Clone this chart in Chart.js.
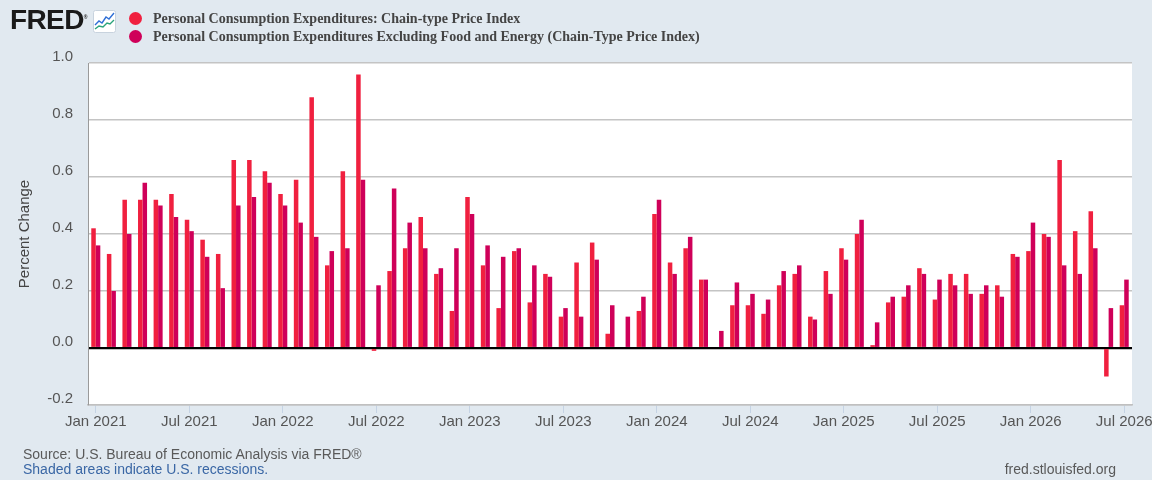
<!DOCTYPE html>
<html>
<head>
<meta charset="utf-8">
<script src="https://cdn.jsdelivr.net/npm/chart.js@4.4.1/dist/chart.umd.min.js"></script>
<style>
  html, body { margin: 0; padding: 0; background: #e1e9f0; }
  #wrap { position: relative; width: 1152px; height: 480px; overflow: hidden; background: #e1e9f0; }
  #chart { position: absolute; left: 0; top: 0; }
  .logo { position: absolute; left: 10px; top: 4px; font: bold 28px "Liberation Sans", Arial, sans-serif; color: #1a1a1a; letter-spacing: -0.6px; }
  .logo sup { font-size: 5px; letter-spacing: 0; }
  .icon { position: absolute; left: 93px; top: 10px; }
  .leg { position: absolute; left: 129px; font: bold 14px "Liberation Serif", "Times New Roman", serif; color: #444; white-space: nowrap; }
  .leg i { display: inline-block; width: 13px; height: 13px; border-radius: 50%; vertical-align: -2px; margin-right: 11px; }
  .foot { position: absolute; font: 14px "Liberation Sans", Arial, sans-serif; color: #595959; white-space: nowrap; }
</style>
</head>
<body>
<div id="wrap">
  <canvas id="chart" width="1152" height="480"></canvas>
  <div class="logo">FRED<sup>®</sup></div>
  <svg class="icon" width="23" height="23" viewBox="0 0 23 23">
    <rect x="0.5" y="0.5" width="22" height="22" rx="2" fill="#fff" stroke="#c8d3de"/>
    <polyline points="2,15 6,11 9,13 13,7 16,9 21,3" fill="none" stroke="#2f6fd6" stroke-width="1.4"/>
    <polyline points="2,19 6,16 10,17 14,13 17,14 21,10" fill="none" stroke="#2aa37a" stroke-width="1.4"/>
  </svg>
  <div class="leg" style="top:11px"><i style="background:#f0203f"></i>Personal Consumption Expenditures: Chain-type Price Index</div>
  <div class="leg" style="top:29px"><i style="background:#cf0059"></i>Personal Consumption Expenditures Excluding Food and Energy (Chain-Type Price Index)</div>
  <div class="foot" style="left:23px; top:446px">Source: U.S. Bureau of Economic Analysis via FRED®</div>
  <div class="foot" style="left:23px; top:461px; color:#3a67a5">Shaded areas indicate U.S. recessions.</div>
  <div class="foot" style="right:36px; top:461px">fred.stlouisfed.org</div>
</div>
<script>
// monthly percent change, Jan 2021 .. Jul 2026
const months = [
  "Jan 2021","Feb 2021","Mar 2021","Apr 2021","May 2021","Jun 2021","Jul 2021","Aug 2021","Sep 2021","Oct 2021","Nov 2021","Dec 2021",
  "Jan 2022","Feb 2022","Mar 2022","Apr 2022","May 2022","Jun 2022","Jul 2022","Aug 2022","Sep 2022","Oct 2022","Nov 2022","Dec 2022",
  "Jan 2023","Feb 2023","Mar 2023","Apr 2023","May 2023","Jun 2023","Jul 2023","Aug 2023","Sep 2023","Oct 2023","Nov 2023","Dec 2023",
  "Jan 2024","Feb 2024","Mar 2024","Apr 2024","May 2024","Jun 2024","Jul 2024","Aug 2024","Sep 2024","Oct 2024","Nov 2024","Dec 2024",
  "Jan 2025","Feb 2025","Mar 2025","Apr 2025","May 2025","Jun 2025","Jul 2025","Aug 2025","Sep 2025","Oct 2025","Nov 2025","Dec 2025",
  "Jan 2026","Feb 2026","Mar 2026","Apr 2026","May 2026","Jun 2026","Jul 2026"
];

const pce = [
  0.42, 0.33, 0.52, 0.52, 0.52, 0.54, 0.45, 0.38, 0.33, 0.66, 0.66, 0.62,
  0.54, 0.59, 0.88, 0.29, 0.62, 0.96, -0.01, 0.27, 0.35, 0.46, 0.26, 0.13,
  0.53, 0.29, 0.14, 0.34, 0.16, 0.26, 0.11, 0.30, 0.37, 0.05, 0.00, 0.13,
  0.47, 0.30, 0.35, 0.24, 0.00, 0.15, 0.15, 0.12, 0.22, 0.26, 0.11, 0.27,
  0.35, 0.40, 0.01, 0.16, 0.18, 0.28, 0.17, 0.26, 0.26, 0.19, 0.22, 0.33,
  0.34, 0.40, 0.66, 0.41, 0.48, -0.10, 0.15
];

const pceCore = [
  0.36, 0.20, 0.40, 0.58, 0.50, 0.46, 0.41, 0.32, 0.21, 0.50, 0.53, 0.58,
  0.50, 0.44, 0.39, 0.34, 0.35, 0.59, 0.22, 0.56, 0.44, 0.35, 0.28, 0.35,
  0.47, 0.36, 0.32, 0.35, 0.29, 0.25, 0.14, 0.11, 0.31, 0.15, 0.11, 0.18,
  0.52, 0.26, 0.39, 0.24, 0.06, 0.23, 0.19, 0.17, 0.27, 0.29, 0.10, 0.19,
  0.31, 0.45, 0.09, 0.18, 0.22, 0.26, 0.24, 0.22, 0.19, 0.22, 0.18, 0.32,
  0.44, 0.39, 0.29, 0.26, 0.35, 0.14, 0.24
];

const yTicks = [-0.2, 0.0, 0.2, 0.4, 0.6, 0.8, 1.0];

const plotBg = {
  id: "plotBg",
  beforeDraw(chart) {
    const { ctx, chartArea: a } = chart;
    ctx.save();
    ctx.fillStyle = "#fff";
    ctx.fillRect(a.left, a.top, a.right - a.left, a.bottom - a.top);
    ctx.restore();
  }
};

const tickFont = { family: "'Liberation Sans', Arial, sans-serif", size: 15 };

new Chart(document.getElementById("chart"), {
  type: "bar",
  data: {
    labels: months,
    datasets: [
      { label: "Personal Consumption Expenditures: Chain-type Price Index", data: pce, backgroundColor: "#f0203f" },
      { label: "Personal Consumption Expenditures Excluding Food and Energy (Chain-Type Price Index)", data: pceCore, backgroundColor: "#cf0059" }
    ]
  },
  options: {
    responsive: false,
    animation: false,
    devicePixelRatio: 1,
    layout: { padding: { top: 63, right: 20, bottom: 0, left: 0 } },
    datasets: { bar: { categoryPercentage: 0.58, barPercentage: 1.0 } },
    plugins: { legend: { display: false }, tooltip: { enabled: false } },
    scales: {
      x: {
        offset: true,
        grid: { offset: false, drawOnChartArea: false, drawTicks: true, tickLength: 8, color: "#c5d3e4" },
        border: { display: true, color: "#c0c0c0", width: 1.5 },
        ticks: {
          autoSkip: false, maxRotation: 0, padding: 0, color: "#555", font: tickFont,
          callback: (v, i) => (i % 6 === 0 ? months[i] : null)
        },
        afterFit(s) { s.height = 75; s.paddingLeft = 0; s.paddingRight = 0; }
      },
      y: {
        min: -0.2, max: 1.0,
        afterBuildTicks(s) { s.ticks = yTicks.map(v => ({ value: v })); },
        grid: {
          drawTicks: false,
          color: c => (c.tick && c.tick.value === 0 ? "#000" : "#c4c4c4"),
          lineWidth: c => (c.tick && c.tick.value === 0 ? 2.2 : 1.4)
        },
        border: { display: true, color: "#9a9a9a", width: 1 },
        ticks: { padding: 15, labelOffset: -6, color: "#555", font: tickFont, callback: v => v.toFixed(1) },
        title: { display: true, text: "Percent Change", color: "#444", font: tickFont, padding: { top: 16, bottom: 0 } },
        afterFit(s) { s.width = 88; }
      }
    }
  },
  plugins: [plotBg]
});
</script>
</body>
</html>
